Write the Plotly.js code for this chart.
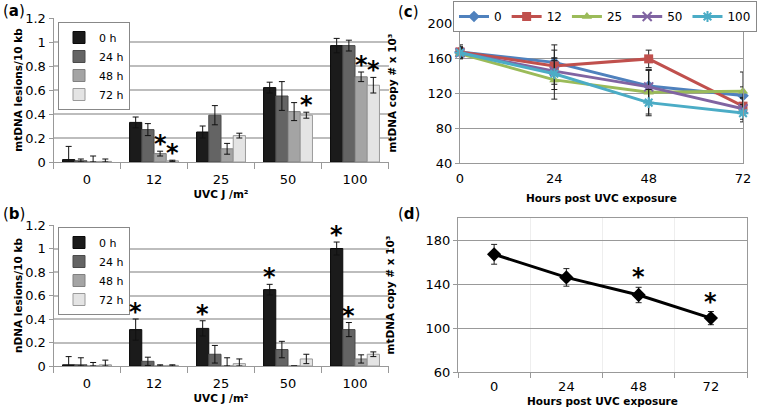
<!DOCTYPE html>
<html><head><meta charset="utf-8">
<script src="https://cdn.plot.ly/plotly-3.0.1.min.js"></script>
<style>body{margin:0;padding:0;background:#fff}#chart{width:760px;height:413px}</style>
</head><body><div id="chart"></div>
<script>
// ---- data ----
const doses = ['0', '12', '25', '50', '100'];
const seriesNames = ['0 h', '24 h', '48 h', '72 h'];

// (a) mtDNA lesions/10 kb
const mt0h = [0.02, 0.33, 0.25, 0.62, 0.97];
const mt0hErr = [0.11, 0.045, 0.05, 0.045, 0.06];
const mt24h = [0.01, 0.27, 0.39, 0.55, 0.97];
const mt24hErr = [0.015, 0.05, 0.08, 0.12, 0.045];
const mt48h = [0.0, 0.07, 0.11, 0.42, 0.71];
const mt48hErr = [0.05, 0.02, 0.045, 0.075, 0.04];
const mt72h = [0.005, 0.01, 0.22, 0.39, 0.64];
const mt72hErr = [0.02, 0.005, 0.02, 0.025, 0.065];
// significance stars (a): [dose index, series index]
const mtStars = [[1, 2], [1, 3], [3, 3], [4, 2], [4, 3]];

// (b) nDNA lesions/10 kb
const n0h = [0.01, 0.31, 0.32, 0.65, 1.00];
const n0hErr = [0.07, 0.09, 0.065, 0.045, 0.055];
const n24h = [0.01, 0.04, 0.10, 0.14, 0.31];
const n24hErr = [0.06, 0.035, 0.075, 0.07, 0.06];
const n48h = [0.0, 0.0, 0.0, 0.0, 0.06];
const n48hErr = [0.03, 0.01, 0.07, 0.0, 0.035];
const n72h = [0.01, 0.005, 0.02, 0.06, 0.10];
const n72hErr = [0.04, 0.005, 0.04, 0.04, 0.02];
const nStars = [[1, 0], [2, 0], [3, 0], [4, 0], [4, 1]];

// (c) mtDNA copy number by dose over time
const hours = [0, 24, 48, 72];
const cNames = ['0', '12', '25', '50', '100'];
const c0 = [167, 155, 128, 117];
const c0Err = [6, 20, 18, 10];
const c12 = [167, 151, 159, 105];
const c12Err = [8, 18, 10, 10];
const c25 = [165, 135, 121, 122];
const c25Err = [5, 22, 25, 22];
const c50 = [166, 145, 127, 102];
const c50Err = [6, 15, 20, 12];
const c100 = [166, 142, 109, 97];
const c100Err = [5, 18, 15, 10];

// (d) pooled mtDNA copy number
const dHours = ['0', '24', '48', '72'];
const dVals = [167, 146, 130, 109];
const dErr = [9, 8, 7, 6];
const dStars = [2, 3];

// ---- styling ----
const barColors = ['#1b1b1b', '#646464', '#a4a4a4', '#e4e4e4'];
const barLines = ['#0a0a0a', '#4a4a4a', '#808080', '#9a9a9a'];
const lineColors = ['#4F81BD', '#C0504D', '#9BBB59', '#8064A2', '#4BACC6'];
const lineSymbols = ['diamond', 'square', 'triangle-up', 'x-thin-open', 'asterisk-open'];
const FONT = 'DejaVu Sans, Verdana, sans-serif';
const W = 760, H = 413;
const px = (v) => v / W, py = (v) => 1 - v / H;

const traces = [];
function addBars(vals, errs, xa, ya, legendName) {
  vals.forEach((v, i) => {
    traces.push({
      type: 'bar', x: doses, y: v, name: seriesNames[i], xaxis: xa, yaxis: ya,
      legend: legendName,
      marker: {color: barColors[i], line: {color: barLines[i], width: 1}},
      error_y: {type: 'data', array: errs[i], arrayminus: errs[i].map((e, k) => Math.min(e, v[k])),
                color: '#111', thickness: 1, width: 3}
    });
  });
}
addBars([mt0h, mt24h, mt48h, mt72h], [mt0hErr, mt24hErr, mt48hErr, mt72hErr], 'x', 'y', 'legend');
addBars([n0h, n24h, n48h, n72h], [n0hErr, n24hErr, n48hErr, n72hErr], 'x2', 'y2', 'legend2');

[[c0, c0Err], [c12, c12Err], [c25, c25Err], [c50, c50Err], [c100, c100Err]].forEach(([v, e], i) => {
  traces.push({
    type: 'scatter', mode: 'lines+markers', x: hours, y: v, name: cNames[i],
    xaxis: 'x3', yaxis: 'y3', legend: 'legend3', cliponaxis: false,
    line: {color: lineColors[i], width: 3},
    marker: {symbol: lineSymbols[i], size: 9, color: lineColors[i],
             line: {color: lineColors[i], width: i >= 3 ? 2 : 0}},
    error_y: {type: 'data', array: e, color: '#222', thickness: 1, width: 3}
  });
});

traces.push({
  type: 'scatter', mode: 'lines+markers', x: dHours, y: dVals, showlegend: false,
  xaxis: 'x4', yaxis: 'y4', cliponaxis: false,
  line: {color: '#000', width: 3},
  marker: {symbol: 'diamond', size: 11, color: '#000'},
  error_y: {type: 'data', array: dErr, color: '#222', thickness: 1, width: 3}
});

// ---- annotations ----
const annotations = [];
const bargap = 0.27;
const catPx = 67;
const barPx = catPx * (1 - bargap) / 4;
const starFont = {family: FONT, size: 24, color: '#000', weight: 'bold'};
function starAnn(list, vals, errs, xa, ya) {
  list.forEach(([d, s]) => {
    annotations.push({x: d, y: vals[s][d] + errs[s][d], xref: xa, yref: ya,
      text: '*', showarrow: false, xshift: (s - 1.5) * barPx, yanchor: 'bottom', yshift: -9,
      font: starFont});
  });
}
starAnn(mtStars, [mt0h, mt24h, mt48h, mt72h], [mt0hErr, mt24hErr, mt48hErr, mt72hErr], 'x', 'y');
starAnn(nStars, [n0h, n24h, n48h, n72h], [n0hErr, n24hErr, n48hErr, n72hErr], 'x2', 'y2');
dStars.forEach(i => annotations.push({x: i, y: dVals[i] + dErr[i], xref: 'x4', yref: 'y4',
  text: '*', showarrow: false, yanchor: 'bottom', yshift: -6, font: starFont}));

[['a', 1, 11], ['b', 1, 214], ['c', 396, 12], ['d', 396, 214]].forEach(([l, x, y]) => {
  annotations.push({xref: 'paper', yref: 'paper', x: px(x), y: py(y), xanchor: 'left', yanchor: 'middle',
    text: '(<b>' + l + '</b>)', showarrow: false, font: {family: FONT, size: 15, color: '#000'}});
});

const tickFont = {family: FONT, size: 13, color: '#000'};
const titleFont = {family: FONT, size: 10.5, color: '#000', weight: 'bold'};
const gridC = '#bdbdbd';

function barX(domain, anchor) {
  return {domain, anchor, type: 'category', range: [-0.5, 4.5], tickson: 'boundaries', ticks: 'outside', ticklen: 6,
    ticklabelstandoff: 5,
    tickcolor: '#999', showline: true, linecolor: '#999', linewidth: 1, tickfont: tickFont,
    title: {text: '<b>UVC J /m²</b>', font: titleFont, standoff: 5}};
}
function barY(domain, anchor, text) {
  return {domain, anchor, range: [0, 1.2], dtick: 0.2, ticks: 'outside', ticklen: 4,
    tickcolor: '#999', showline: true, linecolor: '#999', gridcolor: gridC, gridwidth: 2,
    zeroline: false, tickfont: tickFont, title: {text: '<b>' + text + '</b>', font: titleFont, standoff: 0}};
}

const legendBox = {xanchor: 'left', yanchor: 'top', bgcolor: '#fff', bordercolor: '#888', borderwidth: 1,
  font: {family: FONT, size: 11}, tracegroupgap: 0, itemwidth: 30};

const layout = {
  width: W, height: H, margin: {l: 0, r: 0, t: 0, b: 0, autoexpand: false},
  paper_bgcolor: '#fff', plot_bgcolor: '#fff',
  font: {family: FONT, color: '#000'},
  barmode: 'group', bargap: bargap, bargroupgap: 0,
  xaxis: barX([px(53.5), px(388.5)], 'y'),
  yaxis: barY([py(162), py(18)], 'x', 'mtDNA lesions/10 kb'),
  xaxis2: barX([px(53.5), px(388.5)], 'y2'),
  yaxis2: barY([py(366), py(225)], 'x2', 'nDNA lesions/10 kb'),
  xaxis3: {domain: [px(460), px(743)], anchor: 'y3', range: [0, 72], tickvals: hours, ticks: '',
    ticklabelstandoff: 3,
    showline: true, linecolor: '#999', showgrid: false, zeroline: false, tickfont: tickFont,
    title: {text: '<b>Hours post UVC exposure</b>', font: titleFont, standoff: 10}},
  yaxis3: {domain: [py(163), py(23)], anchor: 'x3', range: [40, 200], dtick: 40, ticks: 'outside', ticklen: 4,
    tickcolor: '#999', showline: true, linecolor: '#999', mirror: true, gridcolor: '#999', gridwidth: 1,
    zeroline: false, tickfont: tickFont, title: {text: '<b>mtDNA copy # x 10³</b>', font: titleFont, standoff: 28}},
  xaxis4: {domain: [px(458), px(747)], anchor: 'y4', type: 'category', range: [-0.5, 3.5], tickson: 'boundaries',
    ticks: 'outside', ticklen: 5, ticklabelstandoff: 2, tickcolor: '#999', showline: true, linecolor: '#999', mirror: true,
    tickfont: tickFont, title: {text: '<b>Hours post UVC exposure</b>', font: titleFont, standoff: 5}},
  yaxis4: {domain: [py(372), py(218)], anchor: 'x4', range: [60, 200], tickvals: [60, 100, 140, 180],
    ticks: 'outside', ticklen: 4, tickcolor: '#999', showline: true, linecolor: '#999', mirror: true,
    gridcolor: '#999', gridwidth: 1, zeroline: false, tickfont: tickFont,
    title: {text: '<b>mtDNA copy # x 10³</b>', font: titleFont, standoff: 28}},
  legend: Object.assign({x: px(58), y: py(22)}, legendBox),
  legend2: Object.assign({x: px(58), y: py(227)}, legendBox),
  legend3: {x: px(757), y: py(1), xanchor: 'right', yanchor: 'top', orientation: 'h', bgcolor: '#fff',
    bordercolor: '#888', borderwidth: 1, font: {family: FONT, size: 12}, itemwidth: 30},
  annotations
};

Plotly.newPlot('chart', traces, layout, {displayModeBar: false, staticPlot: true});
</script></body></html>
